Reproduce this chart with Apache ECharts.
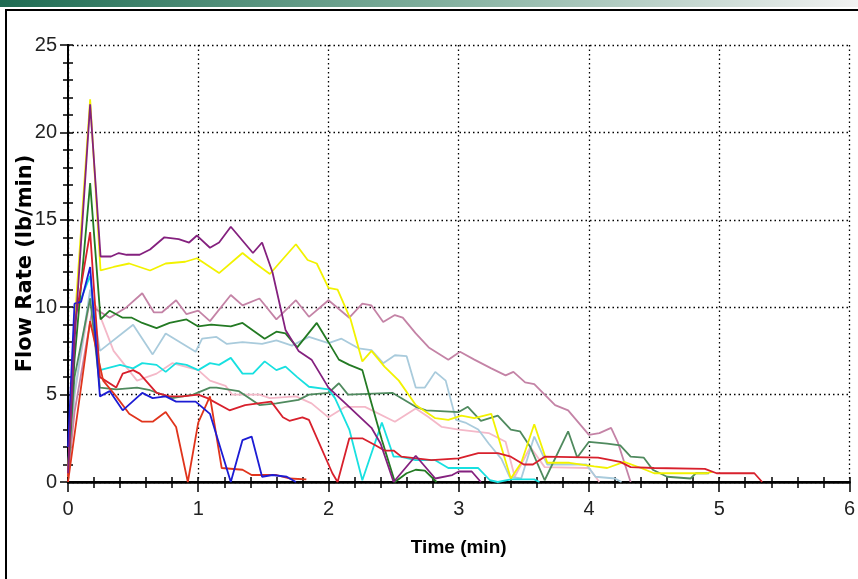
<!DOCTYPE html>
<html><head><meta charset="utf-8">
<script src="https://cdn.jsdelivr.net/npm/echarts@6/dist/echarts.min.js"></script>
<style>html,body{margin:0;padding:0;background:#fff;}#c{width:858px;height:579px;}</style>
</head><body><div id="c"></div>
<script>
// Time (min) / Flow Rate (lb/min) pairs
const xTicks = [0,1,2,3,4,5,6];
const yTicks = [0,5,10,15,20,25];
const purple = [[0,0.5],[0.05,8],[0.17,21.6],[0.25,12.9],[0.33,12.9],[0.39,13.1],[0.45,13.0],[0.55,13.0],[0.63,13.3],[0.74,14.0],[0.85,13.9],[0.93,13.7],[0.99,14.1],[1.09,13.4],[1.16,13.7],[1.25,14.6],[1.42,13.1],[1.49,13.7],[1.57,12.0],[1.67,8.7],[1.77,7.5],[1.87,7.0],[2.0,5.4],[2.13,4.5],[2.33,3.1],[2.4,2.2],[2.5,0],[2.67,1.5],[2.82,0.2],[2.95,0.4],[3.0,0.6],[3.1,0.6],[3.17,0]];
const yellow = [[0,0.3],[0.05,9],[0.17,21.9],[0.25,12.1],[0.35,12.3],[0.47,12.5],[0.63,12.1],[0.75,12.5],[0.9,12.6],[0.99,12.8],[1.16,11.95],[1.34,13.1],[1.44,12.5],[1.55,11.9],[1.62,12.5],[1.75,13.6],[1.84,12.7],[1.91,12.5],[2.0,11.1],[2.07,11.0],[2.17,9.3],[2.26,6.9],[2.33,7.5],[2.43,6.6],[2.54,5.8],[2.67,4.4],[2.82,3.65],[2.92,3.55],[3.02,3.8],[3.12,3.65],[3.25,3.9],[3.4,0.2],[3.48,1.1],[3.58,3.3],[3.68,1.1],[3.85,1.1],[4.04,0.9],[4.14,0.8],[4.27,1.15],[4.4,0.8],[4.5,0.5],[4.9,0.5],[4.95,0.6]];
const mauve = [[0,0.3],[0.05,4],[0.19,10.0],[0.32,9.4],[0.45,10.0],[0.57,10.8],[0.66,9.7],[0.72,9.7],[0.83,10.4],[0.91,9.6],[1.0,9.8],[1.09,9.2],[1.25,10.7],[1.34,10.1],[1.47,10.5],[1.6,9.3],[1.75,10.4],[1.85,9.45],[2.0,10.4],[2.16,9.4],[2.26,10.2],[2.33,10.1],[2.42,9.15],[2.51,9.55],[2.57,9.4],[2.67,8.5],[2.77,7.7],[2.92,7.0],[3.01,7.45],[3.12,7.0],[3.25,6.5],[3.36,6.1],[3.42,6.3],[3.51,5.7],[3.58,5.6],[3.74,4.4],[3.84,4.1],[4.0,2.7],[4.08,2.8],[4.17,3.1],[4.22,2.3],[4.32,0]];
const darkGreen = [[0,0.5],[0.05,7],[0.17,17.1],[0.25,9.3],[0.32,9.8],[0.42,9.4],[0.49,9.4],[0.57,9.1],[0.68,8.8],[0.78,9.1],[0.91,9.3],[1.0,8.9],[1.1,9.0],[1.25,8.9],[1.34,9.1],[1.51,8.2],[1.6,8.6],[1.67,8.5],[1.76,7.7],[1.91,9.1],[2.0,8.0],[2.08,7.0],[2.16,6.7],[2.26,6.4],[2.33,4.5],[2.41,2.4],[2.51,0],[2.6,0.5],[2.67,0.7],[2.74,0.65],[2.83,0]];
const lightBlue = [[0,0.3],[0.05,5],[0.17,11],[0.245,7.5],[0.5,9.0],[0.65,7.3],[0.75,8.5],[0.98,7.45],[1.03,8.2],[1.14,8.3],[1.22,7.9],[1.34,8.0],[1.49,7.9],[1.6,8.1],[1.72,7.8],[1.85,8.3],[2.0,7.95],[2.1,8.2],[2.23,7.65],[2.33,7.55],[2.42,6.8],[2.51,7.25],[2.6,7.2],[2.67,5.4],[2.74,5.4],[2.82,6.3],[2.9,5.8],[2.98,3.55],[3.05,3.4],[3.15,3.0],[3.23,2.2],[3.33,1.3],[3.39,0.3],[3.48,0.2],[3.58,2.6],[3.68,1.0],[3.98,1.0],[4.05,0.3],[4.2,0.2],[4.25,0]];
const cyan = [[0,0.5],[0.05,9.5],[0.17,11.8],[0.245,6.4],[0.4,6.7],[0.5,6.5],[0.57,6.8],[0.68,6.7],[0.75,6.3],[0.83,6.8],[0.91,6.7],[1.0,6.4],[1.09,6.8],[1.16,6.7],[1.25,7.1],[1.34,6.2],[1.42,6.2],[1.51,6.9],[1.6,6.4],[1.67,6.6],[1.76,6.0],[1.85,5.45],[2.0,5.3],[2.05,4.8],[2.16,3.0],[2.26,0.1],[2.41,3.4],[2.5,1.45],[2.55,1.45],[2.67,1.25],[2.82,1.25],[2.92,0.8],[3.15,0.8],[3.24,0.1],[3.3,0],[3.4,0.15],[3.58,0.15],[3.62,0]];
const grayGreen = [[0,0.5],[0.05,6],[0.17,10.5],[0.245,5.4],[0.37,5.3],[0.53,5.4],[0.63,5.25],[0.8,4.8],[0.96,5.0],[1.09,5.4],[1.14,5.4],[1.31,5.2],[1.47,4.4],[1.6,4.5],[1.77,4.7],[1.85,5.0],[2.0,5.1],[2.08,5.65],[2.15,5.0],[2.49,5.1],[2.67,4.3],[2.75,4.1],[3.0,4.0],[3.07,4.3],[3.17,3.5],[3.3,3.8],[3.4,3.0],[3.47,2.9],[3.55,2.0],[3.66,0.1],[3.84,2.9],[3.91,1.4],[4.0,2.3],[4.14,2.2],[4.24,2.1],[4.32,1.45],[4.42,1.4],[4.49,0.7],[4.6,0.3],[4.78,0.2],[4.82,0.5],[4.92,0.5]];
const lightPink = [[0,0.3],[0.05,5],[0.17,10.5],[0.22,10],[0.35,7.5],[0.53,5.8],[0.68,6.2],[0.8,6.8],[1.0,6.4],[1.09,5.8],[1.21,5.5],[1.26,5.0],[1.47,5.0],[1.55,4.8],[1.75,4.9],[1.87,4.5],[2.0,3.7],[2.13,4.3],[2.28,4.3],[2.51,3.45],[2.67,4.2],[2.77,3.7],[2.87,3.15],[3.0,3.0],[3.23,2.8],[3.36,2.3],[3.43,0.3],[3.55,2.0],[3.66,0.85],[4.0,0.8],[4.08,0]];
const red = [[0,0.3],[0.05,9],[0.17,14.3],[0.245,6.0],[0.37,5.4],[0.42,6.2],[0.5,6.4],[0.55,6.2],[0.68,5.1],[0.78,4.9],[0.88,4.9],[1.0,5.0],[1.07,4.8],[1.24,4.1],[1.36,4.4],[1.56,4.6],[1.65,3.7],[1.7,3.5],[1.8,3.7],[1.85,3.55],[1.93,2.2],[2.03,0.5],[2.07,0],[2.16,2.5],[2.26,2.5],[2.36,2.1],[2.43,1.8],[2.5,1.8],[2.56,1.45],[2.79,1.25],[3.0,1.35],[3.15,1.65],[3.3,1.65],[3.4,1.45],[3.5,1.0],[3.57,1.0],[3.66,1.45],[4.07,1.4],[4.14,1.3],[4.24,1.15],[4.32,0.85],[4.5,0.8],[4.89,0.75],[4.98,0.5],[5.27,0.5],[5.33,0]];
const crimson = [[0,0],[0.17,9.2],[0.27,5.8],[0.37,4.9],[0.47,3.9],[0.57,3.45],[0.65,3.45],[0.75,4.0],[0.83,3.15],[0.92,0],[1.0,3.4],[1.09,4.9],[1.18,0.8],[1.34,0.7],[1.41,0.4],[1.6,0.4],[1.7,0.2],[1.83,0.15]];
const blue = [[0,2],[0.05,10.2],[0.1,10.3],[0.17,12.3],[0.245,4.9],[0.32,5.2],[0.42,4.1],[0.57,5.1],[0.65,4.8],[0.75,4.9],[0.83,4.6],[0.98,4.6],[1.09,3.9],[1.25,0],[1.34,2.4],[1.41,2.6],[1.49,0.3],[1.57,0.4],[1.68,0.3],[1.75,0]];

const seriesDefs = [
  ['lightPink', lightPink, '#f4b8c8'],
  ['lightBlue', lightBlue, '#a9cbdc'],
  ['mauve', mauve, '#c483a6'],
  ['grayGreen', grayGreen, '#4f8a5e'],
  ['cyan', cyan, '#18e0e0'],
  ['darkGreen', darkGreen, '#237a23'],
  ['yellow', yellow, '#f2f200'],
  ['red', red, '#d8202c'],
  ['crimson', crimson, '#e0341c'],
  ['blue', blue, '#1c1cd4'],
  ['purple', purple, '#84207e']
];

const NUMFONT = "'Liberation Sans Narrow','Arial Narrow','Liberation Sans',Arial,sans-serif";
const black = '#000';
const chart = echarts.init(document.getElementById('c'), null, {renderer:'canvas'});

const baseX = {type:'value', min:xTicks[0], max:xTicks[xTicks.length-1], interval:1};
const baseY = {type:'value', min:yTicks[0], max:yTicks[yTicks.length-1], interval:5};

chart.setOption({
  animation:false,
  backgroundColor:'#fff',
  grid:{left:68, right:5, top:45, bottom:97, containLabel:false},
  graphic:[
    {type:'rect', shape:{x:0,y:0,width:858,height:7}, style:{fill:new echarts.graphic.LinearGradient(0,0,1,0,[{offset:0,color:'#1e6b52'},{offset:0.5,color:'#7fae9c'},{offset:1,color:'#f2f2f2'}])}, silent:true},
    {type:'rect', shape:{x:6,y:10,width:860,height:580}, style:{fill:'none', stroke:'#000', lineWidth:2}, silent:true}
  ],
  xAxis:[
    Object.assign({}, baseX, {position:'bottom',
      axisLine:{lineStyle:{color:black,width:2}},
      axisTick:{show:true,inside:false,length:9,lineStyle:{color:black,width:1.5}},
      minorTick:{show:true,splitNumber:5,length:6,lineStyle:{color:black,width:1.5}},
      axisLabel:{fontSize:20,color:'#222',margin:17,fontFamily:NUMFONT},
      splitLine:{show:true,lineStyle:{color:black,width:1.3,type:[1.5,3]}},
      name:'Time (min)', nameLocation:'middle', nameGap:56, nameMoveOverlap:false,
      nameTextStyle:{fontSize:19,fontWeight:'bold',color:'#000',fontFamily:NUMFONT}}),
    Object.assign({}, baseX, {position:'bottom',
      axisLine:{show:false},
      axisTick:{show:true,inside:true,length:5,lineStyle:{color:black,width:1.5}},
      minorTick:{show:true,splitNumber:5,length:5,lineStyle:{color:black,width:1.5}},
      axisLabel:{show:false}, splitLine:{show:false}}),
    Object.assign({}, baseX, {position:'top',
      axisLine:{lineStyle:{color:black,width:2.5}},
      axisTick:{show:true,inside:true,length:10,lineStyle:{color:black,width:1.5}},
      minorTick:{show:true,splitNumber:5,length:6,lineStyle:{color:black,width:1.5}},
      axisLabel:{show:false}, splitLine:{show:false}})
  ],
  yAxis:[
    Object.assign({}, baseY, {position:'left',
      axisLine:{lineStyle:{color:black,width:2}},
      axisTick:{show:true,inside:false,length:7,lineStyle:{color:black,width:1.5}},
      minorTick:{show:true,splitNumber:5,length:5,lineStyle:{color:black,width:1.5}},
      axisLabel:{fontSize:20,color:'#222',margin:11,fontFamily:NUMFONT},
      splitLine:{show:true,lineStyle:{color:black,width:1.3,type:[1.5,3]}},
      name:'Flow Rate (lb/min)', nameLocation:'middle', nameGap:32, nameRotate:90, nameMoveOverlap:false,
      nameTextStyle:{fontSize:21,fontWeight:'bold',color:'#000',fontFamily:"'DejaVu Sans',sans-serif"}}),
    Object.assign({}, baseY, {position:'left',
      axisLine:{show:false},
      axisTick:{show:true,inside:true,length:5,lineStyle:{color:black,width:1.5}},
      minorTick:{show:true,splitNumber:5,length:5,lineStyle:{color:black,width:1.5}},
      axisLabel:{show:false}, splitLine:{show:false}}),
    Object.assign({}, baseY, {position:'right',
      axisLine:{lineStyle:{color:black,width:2}},
      axisTick:{show:true,inside:true,length:8,lineStyle:{color:black,width:1.5}},
      minorTick:{show:true,splitNumber:5,length:5,lineStyle:{color:black,width:1.5}},
      axisLabel:{show:false}, splitLine:{show:false}})
  ],
  series: seriesDefs.map(([name,data,color]) => ({
    name, type:'line', data, xAxisIndex:0, yAxisIndex:0,
    showSymbol:false, symbol:'none', smooth:false,
    lineStyle:{color, width:1.8}, itemStyle:{color}, z:3
  }))
});
</script></body></html>
